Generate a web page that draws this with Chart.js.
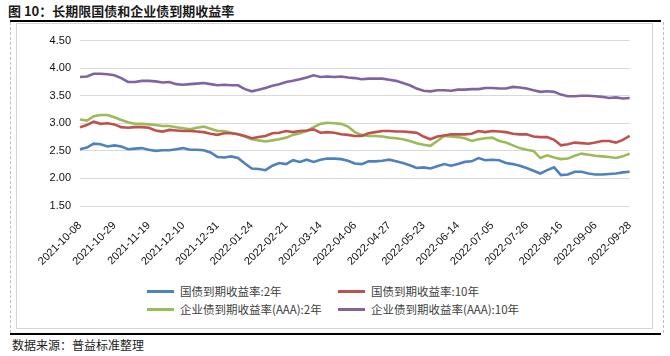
<!DOCTYPE html>
<html><head><meta charset="utf-8">
<script src="https://cdn.jsdelivr.net/npm/chart.js@4.4.1/dist/chart.umd.min.js"></script>
<style>
body{margin:0;width:670px;height:356px;background:#fff;position:relative;overflow:hidden;font-family:"Noto Sans CJK SC",sans-serif;}
#title{position:absolute;left:8px;top:1px;font-size:13px;font-weight:bold;color:#1a1a1a;white-space:nowrap;}
#rule1{position:absolute;left:10px;top:20px;width:651px;height:2px;background:#000;}
#outer{position:absolute;left:10px;top:22px;width:652px;height:311px;border-left:1px dashed #c0c0c0;border-right:1px dashed #c0c0c0;}
#inner{position:absolute;left:16px;top:23px;width:635px;height:304px;border:1px solid #d4d4d4;}
#rule2{position:absolute;left:10px;top:333px;width:651px;height:2px;background:#000;}
#source{position:absolute;left:12px;top:336px;font-size:12px;color:#222;white-space:nowrap;}
#wrap{position:absolute;left:16px;top:25px;width:636px;height:255px;}
.leg{position:absolute;height:14px;font-size:11.5px;line-height:14px;color:#404040;white-space:nowrap;}
.leg i{display:inline-block;width:27px;height:3px;vertical-align:middle;margin-right:6px;position:relative;top:-1px;}
</style>
</head><body>
<div id="title">图 10：长期限国债和企业债到期收益率</div>
<div id="rule1"></div>
<div id="outer"></div>
<div id="inner"></div>
<div id="wrap"><canvas id="c" width="636" height="255"></canvas></div>
<div id="legend"></div>
<div id="rule2"></div>
<div id="source">数据来源：普益标准整理</div>
<script>
const tickLabels = ["2021-10-08","2021-10-29","2021-11-19","2021-12-10","2021-12-31","2022-01-24","2022-02-21","2022-03-14","2022-04-06","2022-04-27","2022-05-23","2022-06-14","2022-07-05","2022-07-26","2022-08-16","2022-09-06","2022-09-28"];
const seriesNames = ["国债到期收益率:2年","国债到期收益率:10年","企业债到期收益率(AAA):2年","企业债到期收益率(AAA):10年"];
const gov2y = [2.53,2.56,2.63,2.62,2.58,2.60,2.58,2.53,2.54,2.55,2.52,2.50,2.51,2.51,2.53,2.55,2.52,2.52,2.51,2.47,
2.39,2.38,2.40,2.37,2.27,2.18,2.17,2.15,2.23,2.28,2.26,2.33,2.30,2.34,2.30,2.34,2.36,2.36,2.35,2.32,
2.27,2.26,2.31,2.31,2.32,2.34,2.31,2.28,2.24,2.19,2.20,2.18,2.22,2.26,2.23,2.26,2.30,2.31,2.37,2.33,
2.34,2.33,2.28,2.26,2.23,2.19,2.14,2.09,2.15,2.20,2.06,2.07,2.12,2.12,2.09,2.07,2.07,2.08,2.09,2.11,2.12];
const gov10y = [2.93,2.97,3.03,2.99,3.00,2.98,2.93,2.92,2.93,2.93,2.92,2.87,2.85,2.88,2.87,2.86,2.86,2.85,2.84,2.81,
2.79,2.82,2.82,2.80,2.77,2.73,2.75,2.77,2.82,2.83,2.86,2.84,2.86,2.87,2.89,2.83,2.84,2.83,2.80,2.79,
2.77,2.77,2.82,2.84,2.86,2.86,2.85,2.85,2.84,2.83,2.76,2.71,2.76,2.78,2.80,2.80,2.80,2.81,2.86,2.84,
2.86,2.85,2.84,2.81,2.80,2.80,2.76,2.75,2.75,2.70,2.60,2.62,2.65,2.64,2.63,2.65,2.68,2.68,2.65,2.70,2.77];
const corp2y = [3.07,3.05,3.13,3.15,3.15,3.11,3.06,3.02,2.99,2.99,2.98,2.97,2.95,2.95,2.93,2.91,2.89,2.92,2.94,2.90,
2.86,2.86,2.83,2.80,2.76,2.71,2.69,2.67,2.69,2.71,2.74,2.79,2.82,2.86,2.93,2.99,3.01,3.00,2.99,2.94,
2.84,2.79,2.77,2.77,2.76,2.74,2.73,2.71,2.68,2.64,2.61,2.59,2.68,2.77,2.76,2.75,2.73,2.68,2.71,2.73,
2.74,2.68,2.65,2.60,2.55,2.52,2.50,2.37,2.42,2.38,2.35,2.36,2.41,2.45,2.43,2.41,2.40,2.39,2.37,2.40,2.45];
const corp10y = [3.84,3.85,3.90,3.90,3.89,3.87,3.82,3.75,3.75,3.77,3.77,3.76,3.74,3.75,3.71,3.70,3.71,3.72,3.73,3.71,
3.69,3.70,3.69,3.69,3.62,3.58,3.61,3.64,3.68,3.71,3.75,3.77,3.80,3.83,3.87,3.84,3.85,3.84,3.85,3.83,
3.82,3.80,3.81,3.81,3.81,3.79,3.77,3.73,3.69,3.63,3.59,3.58,3.60,3.60,3.59,3.61,3.61,3.62,3.62,3.64,
3.64,3.63,3.63,3.66,3.65,3.63,3.60,3.57,3.58,3.57,3.52,3.49,3.49,3.50,3.50,3.49,3.48,3.46,3.47,3.45,3.46];
const colors = ["#4F81BD","#C0504D","#9BBB59","#8064A2"];
const step = 5;
const categories = gov2y.map((_, i) => (i % step === 0 ? tickLabels[i / step] : ""));
const allSeries = [gov2y, gov10y, corp2y, corp10y];

// legend
const legPos = [[147,284],[338,284],[147,302],[338,302]];
const legEl = document.getElementById('legend');
seriesNames.forEach((n, k) => {
  const d = document.createElement('div');
  d.className = 'leg';
  d.style.left = legPos[k][0] + 'px';
  d.style.top = legPos[k][1] + 'px';
  d.innerHTML = '<i style="background:' + colors[k] + '"></i>' + n;
  legEl.appendChild(d);
});

new Chart(document.getElementById('c'), {
  type: 'line',
  data: {
    labels: categories,
    datasets: allSeries.map((s, k) => ({
      label: seriesNames[k], data: s, borderColor: colors[k], backgroundColor: colors[k],
      borderWidth: 2.6, pointRadius: 0, tension: 0, fill: false
    }))
  },
  options: {
    responsive: false, animation: false, devicePixelRatio: 1,
    layout: { padding: { top: 4, right: 15, left: 0, bottom: 0 } },
    plugins: { legend: { display: false }, tooltip: { enabled: false } },
    scales: {
      x: {
        grid: { display: false, drawTicks: false },
        border: { display: false },
        afterFit: (s) => { s.height = 74; },
        ticks: {
          autoSkip: false, maxRotation: 45, minRotation: 45, padding: 13,
          color: '#111', font: { family: 'Liberation Sans, Arial', size: 11 },
          callback: function (v, i) { return categories[i]; }
        }
      },
      y: {
        min: 1.5, max: 4.5,
        afterFit: (s) => { s.width = 64; },
        grid: { color: '#d9d9d9', drawTicks: false, lineWidth: 1 },
        border: { display: false },
        ticks: {
          stepSize: 0.5, padding: 9, color: '#111',
          font: { family: 'Liberation Sans, Arial', size: 11 },
          callback: (v) => v.toFixed(2)
        }
      }
    }
  }
});
</script>
</body></html>
